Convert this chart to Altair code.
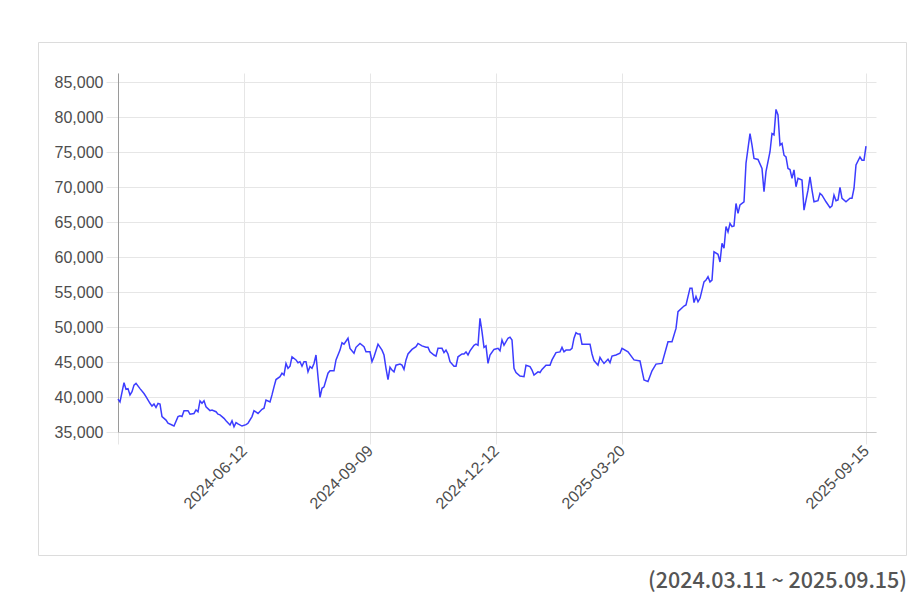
import altair as alt
import pandas as pd

# trading-day index since 2024-03-11 and closing price
days = [0, 1, 3, 4, 5, 6, 7, 8, 9, 11, 13, 14, 16, 17, 18, 19, 20, 21, 22, 24, 25, 27, 28,
        30, 31, 32, 33, 35, 36, 38, 39, 40, 41, 42, 43, 44, 46, 47, 49, 50, 51, 53, 54, 56,
        57, 58, 59, 60, 62, 64, 65, 67, 68, 70, 72, 73, 74, 76, 77, 78, 79, 81, 82, 83, 84,
        85, 86, 87, 89, 90, 91, 92, 93, 94, 95, 96, 97, 98, 99, 100, 101, 102, 103, 105, 106,
        108, 109, 111, 112, 113, 115, 116, 118, 119, 121, 123, 124, 126, 127, 128, 130, 132,
        133, 134, 135, 136, 137, 138, 139, 141, 142, 143, 144, 145, 147, 149, 150, 152, 154,
        155, 156, 158, 159, 160, 162, 163, 164, 165, 166, 168, 169, 170, 172, 173, 174, 175,
        176, 178, 179, 180, 181, 182, 183, 184, 185, 186, 188, 190, 191, 192, 193, 195, 196,
        197, 198, 199, 201, 203, 204, 206, 207, 208, 210, 211, 212, 214, 216, 217, 219, 221,
        222, 223, 224, 226, 227, 228, 229, 230, 231, 232, 234, 236, 237, 238, 240, 241, 242,
        243, 245, 246, 247, 249, 251, 252, 255, 258, 261, 263, 265, 267, 269, 272, 275, 277,
        279, 280, 283, 284, 286, 287, 288, 289, 290, 291, 293, 294, 295, 296, 297, 298, 300,
        301, 302, 303, 304, 305, 306, 307, 308, 309, 310, 311, 313, 314, 316, 317, 318, 320,
        322, 323, 324, 326, 327, 328, 329, 330, 331, 332, 333, 334, 335, 336, 337, 338, 339,
        340, 342, 343, 345, 346, 347, 348, 350, 351, 352, 354, 356, 357, 358, 359, 360, 361,
        362, 364, 366, 367, 368, 369, 371, 372, 373, 374]

prices = [39700, 39300, 42050, 41100, 41200, 40300, 40750, 41700, 41950, 41200, 40500, 40050,
          39100, 38700, 39000, 38500, 39100, 39000, 37200, 36700, 36250, 36000, 35850, 37200,
          37300, 37200, 38050, 38050, 37550, 37650, 38150, 37900, 39450, 39100, 39450, 38600,
          38050, 38150, 37900, 37550, 37450, 36950, 36600, 36000, 36600, 35750, 36350, 36150,
          35850, 36050, 36250, 37200, 38050, 37650, 38250, 38400, 39550, 39300, 40300, 41450,
          42500, 42900, 43400, 43150, 44800, 44100, 44400, 45750, 45300, 44900, 45050, 44400,
          45050, 45050, 43600, 44350, 44100, 44800, 46000, 42900, 39950, 41250, 41450, 43400,
          43750, 43750, 45300, 46700, 47750, 47550, 48400, 46950, 46250, 47100, 47650, 47200,
          46450, 46450, 45050, 45750, 47550, 46700, 46000, 44100, 42500, 44250, 43850, 43600,
          44550, 44700, 44550, 43950, 45300, 46150, 46800, 47200, 47650, 47300, 47100, 47100,
          46450, 46000, 45850, 46950, 46950, 46350, 46700, 46150, 45050, 44400, 44400, 45750,
          46150, 46150, 46450, 46000, 46600, 47400, 47550, 47400, 51250, 49350, 47100, 47300,
          44800, 46000, 46800, 46950, 46600, 48150, 47400, 48400, 48550, 48150, 44100, 43500,
          43000, 42900, 44550, 44350, 43850, 43150, 43600, 43500, 43950, 44550, 44550, 45300,
          46350, 46450, 47100, 46450, 46700, 46700, 46950, 48400, 49200, 49000, 49000, 47550,
          47550, 47550, 46150, 45200, 44550, 45650, 45200, 44800, 45400, 44900, 45850, 46000,
          46250, 46950, 46450, 45300, 45150, 42450, 42200, 43750, 44700, 44800, 47900, 47900,
          49800, 52200, 53000, 53150, 55550, 55550, 53500, 54350, 53600, 54100, 56450, 56700,
          57200, 56450, 56700, 60750, 60400, 59300, 61950, 61250, 64350, 63600, 64800, 64350,
          64450, 67650, 66250, 67450, 67900, 73400, 77650, 76000, 74100, 73950, 72650, 69350,
          72200, 75050, 77650, 77450, 81100, 80300, 76000, 76250, 74550, 74300, 72650, 72500,
          71250, 72450, 70050, 71250, 71000, 66700, 69550, 71450, 69550, 67900, 68050, 69100,
          68850, 67900, 67050, 67300, 68850, 68050, 68150, 69950, 68400, 67900, 68400, 68400,
          69800, 73150, 74300, 73850, 73850, 75850]

tick_days = [0, 63, 126, 189, 252, 374]
tick_labels = ["", "2024-06-12", "2024-09-09", "2024-12-12", "2025-03-20", "2025-09-15"]
y_ticks = [35000, 40000, 45000, 50000, 55000, 60000, 65000, 70000, 75000, 80000, 85000]
caption = "(2024.03.11 ~ 2025.09.15)"

df = pd.DataFrame({"day": days, "price": prices})

label_expr = " : ".join(
    f"datum.value == {d} ? '{l}'" for d, l in zip(tick_days, tick_labels)
) + " : ''"

GRID = "#e6e6e6"
FONT = "Liberation Sans, Arial, sans-serif"

box = alt.Chart(pd.DataFrame({"k": [0]})).mark_rect(
    fill="transparent", stroke="#dcdcdc", strokeWidth=1
).encode(
    x=alt.value(-79.5), x2=alt.value(788.5), y=alt.value(-30.5), y2=alt.value(482.5)
)

line = alt.Chart(df).mark_line(color="#3c3cff", strokeWidth=1.5).encode(
    x=alt.X(
        "day:Q",
        scale=alt.Scale(domain=[0, 379], nice=False, zero=False),
        axis=alt.Axis(
            values=tick_days, labelExpr=label_expr, labelAngle=-45,
            labelAlign="right", labelBaseline="middle", labelFlush=False,
            labelOverlap=False, tickSize=12, tickColor=GRID, gridColor=GRID,
            domainColor="#cccccc", labelFont=FONT, labelFontSize=16,
            labelColor="#4d4d4d", labelPadding=4, title=None,
        ),
    ),
    y=alt.Y(
        "price:Q",
        scale=alt.Scale(domain=[35000, 86300], nice=False, zero=False),
        axis=alt.Axis(
            values=y_ticks, format=",.0f", tickSize=12, tickColor=GRID,
            gridColor=GRID, domainColor="#9a9a9a", labelFont=FONT,
            labelFontSize=16, labelColor="#4d4d4d", labelPadding=3, title=None,
        ),
    ),
)

cap = alt.Chart(pd.DataFrame({"t": [caption]})).mark_text(
    align="right", baseline="alphabetic", font="Noto Sans CJK KR",
    fontSize=21.5, fontWeight=500, color="#555555"
).encode(x=alt.value(789), y=alt.value(515), text="t:N")

chart = alt.layer(box, line, cap).properties(
    width=758, height=359,
    autosize="none",
    padding={"left": 110, "top": 65, "right": 35, "bottom": 164},
).configure_view(stroke=None)

chart.save("out.html", embed_options={"renderer": "svg", "actions": False})
